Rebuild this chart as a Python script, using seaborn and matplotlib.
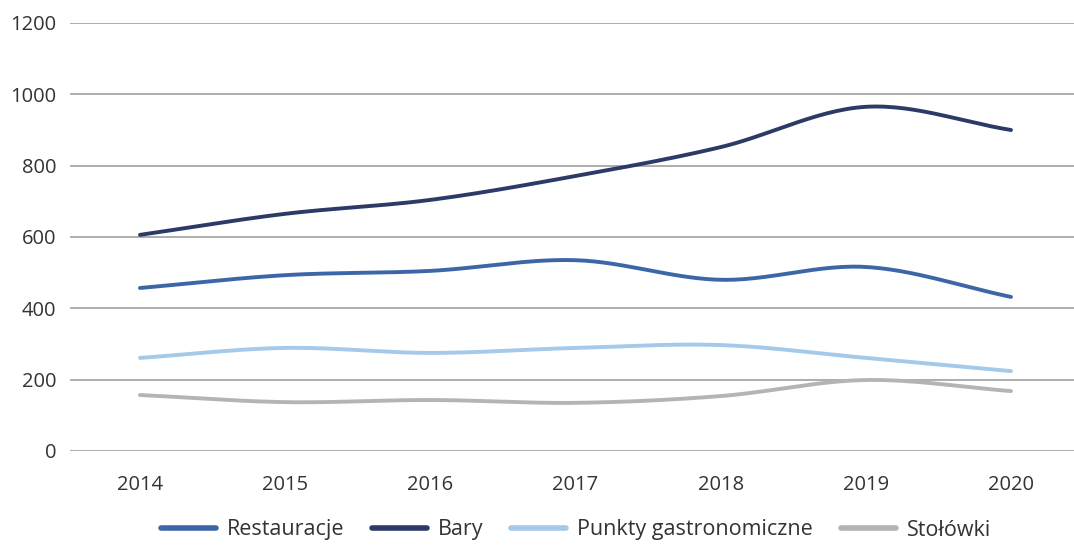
import numpy as np
import pandas as pd
import seaborn as sns
import matplotlib.pyplot as plt

# %%
years = ["2014", "2015", "2016", "2017", "2018", "2019", "2020"]
restauracje = [457, 493, 505, 535, 480, 516, 432]
bary = [606, 665, 704, 771, 852, 965, 900]
punkty = [261, 289, 275, 289, 297, 261, 224]
stolowki = [157, 137, 143, 135, 154, 199, 168]

series = {
    "Restauracje": restauracje,
    "Bary": bary,
    "Punkty gastronomiczne": punkty,
    "Stołówki": stolowki,
}
colors = ["#3D66A9", "#2C3A68", "#A4C9E9", "#B4B4B4"]


# %%
def smooth(x, y, n=30):
    # Catmull-Rom spline through the points (Excel-like smoothed line)
    x = np.asarray(x, float)
    y = np.asarray(y, float)
    px = np.concatenate([[2 * x[0] - x[1]], x, [2 * x[-1] - x[-2]]])
    py = np.concatenate([[2 * y[0] - y[1]], y, [2 * y[-1] - y[-2]]])
    xs, ys = [], []
    t = np.linspace(0, 1, n, endpoint=False)
    for i in range(1, len(px) - 2):
        for p, out in ((px, xs), (py, ys)):
            p0, p1, p2, p3 = p[i - 1], p[i], p[i + 1], p[i + 2]
            out.extend(0.5 * ((2 * p1) + (-p0 + p2) * t
                              + (2 * p0 - 5 * p1 + 4 * p2 - p3) * t ** 2
                              + (-p0 + 3 * p1 - 3 * p2 + p3) * t ** 3))
    xs.append(x[-1])
    ys.append(y[-1])
    return np.array(xs), np.array(ys)


rows = []
idx = np.arange(len(years))
for name, vals in series.items():
    sx, sy = smooth(idx, vals)
    rows.append(pd.DataFrame({"x": sx, "value": sy, "series": name}))
df = pd.concat(rows, ignore_index=True)

# %%
sns.set_theme(style="white")
plt.rcParams["font.family"] = ["Open Sans", "DejaVu Sans"]

fig = plt.figure(figsize=(10.74, 5.46), dpi=100)
ax = fig.add_axes([70 / 1074, 95 / 546, 1004 / 1074, 428 / 546])

sns.lineplot(data=df, x="x", y="value", hue="series", palette=colors,
             linewidth=2.8, sort=False, estimator=None, ax=ax, legend=True)

ax.set_xlim(-0.482, 6.434)
ax.set_ylim(0, 1200)
ax.set_yticks(range(0, 1201, 200))
ax.set_xticks(idx)
ax.set_xticklabels(years)
ax.yaxis.grid(True, color="#A0A0A0", linewidth=1.2)
ax.xaxis.grid(False)
for s in ax.spines.values():
    s.set_visible(False)
ax.tick_params(axis="both", length=0, labelsize=14.5, colors="#333333")
ax.tick_params(axis="x", pad=17)
ax.tick_params(axis="y", pad=10)
ax.set_xlabel("")
ax.set_ylabel("")

handles, labels = ax.get_legend_handles_labels()
ax.legend_.remove()
for h in handles:
    h.set_linewidth(4)
fig.legend(handles, labels, loc="center", bbox_to_anchor=(576 / 1074, 16 / 546),
           ncol=4, frameon=False, fontsize=15.5, handlelength=2.55,
           columnspacing=1.3, handletextpad=0.5, labelcolor="#333333")

fig.savefig("out.png", dpi=100)
